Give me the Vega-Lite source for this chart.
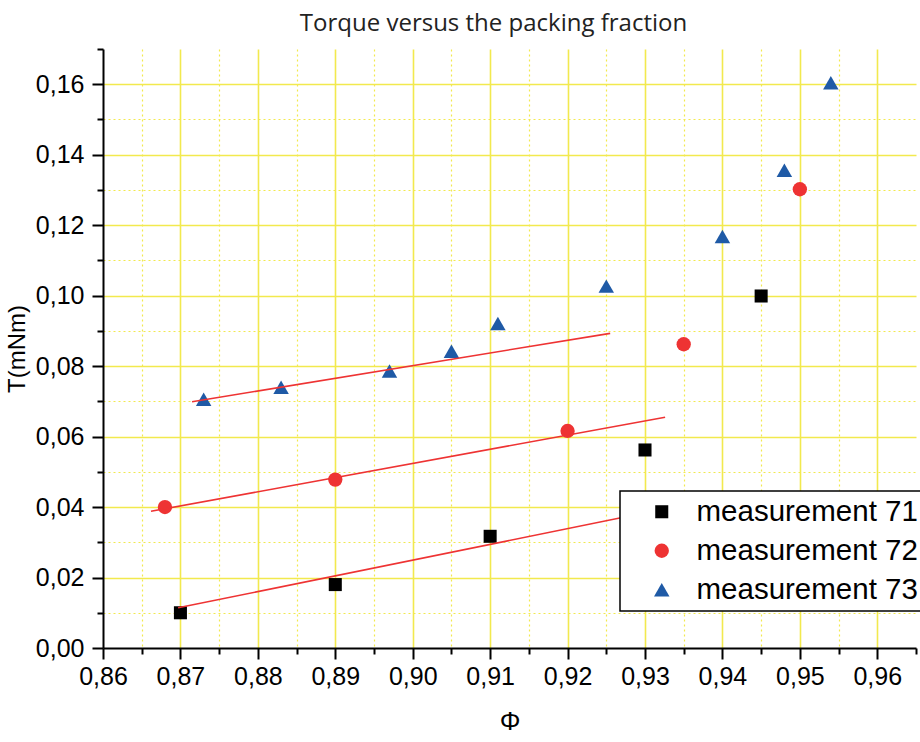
{
  "$schema": "https://vega.github.io/schema/vega-lite/v6.json",
  "width": 813,
  "height": 599,
  "autosize": {"type": "none"},
  "padding": {"left": 103, "top": 49, "right": 4, "bottom": 94},
  "background": "white",
  "title": {
    "text": "Torque versus the packing fraction",
    "font": "Open Sans",
    "fontSize": 24,
    "fontWeight": "normal",
    "color": "#222222",
    "anchor": "middle",
    "frame": "group",
    "baseline": "alphabetic",
    "offset": 19,
    "dx": -16,
    "dy": 37
  },
  "datasets": {
    "points": [
      {"series": "measurement 71", "phi": 0.870, "T": 0.0100},
      {"series": "measurement 71", "phi": 0.890, "T": 0.0180},
      {"series": "measurement 71", "phi": 0.910, "T": 0.0317},
      {"series": "measurement 71", "phi": 0.930, "T": 0.0562},
      {"series": "measurement 71", "phi": 0.945, "T": 0.0999},
      {"series": "measurement 72", "phi": 0.868, "T": 0.0400},
      {"series": "measurement 72", "phi": 0.890, "T": 0.0478},
      {"series": "measurement 72", "phi": 0.920, "T": 0.0616},
      {"series": "measurement 72", "phi": 0.935, "T": 0.0862},
      {"series": "measurement 72", "phi": 0.950, "T": 0.1302},
      {"series": "measurement 73", "phi": 0.873, "T": 0.0706},
      {"series": "measurement 73", "phi": 0.883, "T": 0.0740},
      {"series": "measurement 73", "phi": 0.897, "T": 0.0786},
      {"series": "measurement 73", "phi": 0.905, "T": 0.0842},
      {"series": "measurement 73", "phi": 0.911, "T": 0.0921},
      {"series": "measurement 73", "phi": 0.925, "T": 0.1027},
      {"series": "measurement 73", "phi": 0.940, "T": 0.1168},
      {"series": "measurement 73", "phi": 0.948, "T": 0.1356},
      {"series": "measurement 73", "phi": 0.954, "T": 0.1604}
    ],
    "fits": [
      {"series": "fit 71", "phi": 0.8697, "T": 0.0114},
      {"series": "fit 71", "phi": 0.9326, "T": 0.0395},
      {"series": "fit 72", "phi": 0.8662, "T": 0.0388},
      {"series": "fit 72", "phi": 0.9326, "T": 0.0655},
      {"series": "fit 73", "phi": 0.8715, "T": 0.0699},
      {"series": "fit 73", "phi": 0.9255, "T": 0.0893}
    ]
  },
  "encoding": {
    "x": {
      "field": "phi",
      "type": "quantitative",
      "scale": {"domain": [0.86, 0.965], "nice": false, "zero": false},
      "axis": {
        "title": "Φ",
        "titleFont": "Liberation Sans",
        "titleFontSize": 26,
        "titleFontWeight": "normal",
        "titleColor": "black",
        "titlePadding": 19,
        "values": [0.86, 0.865, 0.87, 0.875, 0.88, 0.885, 0.89, 0.895, 0.9, 0.905, 0.91, 0.915, 0.92, 0.925, 0.93, 0.935, 0.94, 0.945, 0.95, 0.955, 0.96, 0.965],
        "labelExpr": "round(datum.value*1000) % 10 != 0 ? '' : replace(format(datum.value, '.2f'), '.', ',')",
        "labelFont": "Liberation Sans",
        "labelFontSize": 25,
        "labelColor": "black",
        "labelPadding": 5,
        "labelFlush": false,
        "labelOverlap": false,
        "domainColor": "black",
        "domainWidth": 2,
        "tickColor": "black",
        "tickWidth": 2,
        "tickSize": {"condition": {"test": "round(datum.value*1000) % 10 != 0", "value": 6}, "value": 11},
        "grid": true,
        "gridColor": "#f2e94e",
        "gridWidth": {"condition": {"test": "round(datum.value*1000) % 10 != 0", "value": 1.2}, "value": 1.6},
        "gridDash": {"condition": {"test": "round(datum.value*1000) % 10 != 0", "value": [2, 3]}, "value": []},
        "gridOpacity": {"condition": {"test": "datum.value > 0.9625 || datum.value < 0.8605", "value": 0}, "value": 1}
      }
    },
    "y": {
      "field": "T",
      "type": "quantitative",
      "scale": {"domain": [0, 0.17], "nice": false, "zero": false},
      "axis": {
        "title": "T(mNm)",
        "titleFont": "Liberation Sans",
        "titleFontSize": 24,
        "titleFontWeight": "normal",
        "titleColor": "black",
        "titlePadding": 6,
        "values": [0, 0.01, 0.02, 0.03, 0.04, 0.05, 0.06, 0.07, 0.08, 0.09, 0.1, 0.11, 0.12, 0.13, 0.14, 0.15, 0.16, 0.17],
        "labelExpr": "round(datum.value*100) % 2 != 0 ? '' : replace(format(datum.value, '.2f'), '.', ',')",
        "labelFont": "Liberation Sans",
        "labelFontSize": 25,
        "labelColor": "black",
        "labelPadding": 8,
        "labelFlush": false,
        "labelOverlap": false,
        "domainColor": "black",
        "domainWidth": 2,
        "tickColor": "black",
        "tickWidth": 2,
        "tickSize": {"condition": {"test": "round(datum.value*100) % 2 != 0", "value": 6}, "value": 11},
        "grid": true,
        "gridColor": "#f2e94e",
        "gridWidth": {"condition": {"test": "round(datum.value*100) % 2 != 0", "value": 1.2}, "value": 1.6},
        "gridDash": {"condition": {"test": "round(datum.value*100) % 2 != 0", "value": [2, 3]}, "value": []},
        "gridOpacity": {"condition": {"test": "datum.value > 0.165 || datum.value < 0.005", "value": 0}, "value": 1}
      }
    }
  },
  "layer": [
    {
      "data": {"name": "points"},
      "mark": {"type": "point", "filled": true, "opacity": 1, "size": 220},
      "encoding": {
        "color": {
          "field": "series",
          "type": "nominal",
          "scale": {"domain": ["measurement 71", "measurement 72", "measurement 73"], "range": ["#000000", "#ee3333", "#1f5aa6"]},
          "legend": {
            "title": " ",
            "titleOrient": "left",
            "titleFontSize": 1,
            "titlePadding": 21,
            "orient": "none",
            "legendX": 517,
            "legendY": 442,
            "fillColor": "white",
            "strokeColor": "black",
            "padding": 6,
            "rowPadding": 8,
            "symbolOffset": 0,
            "labelOffset": 20,
            "labelFont": "Liberation Sans",
            "labelFontSize": 29.5,
            "labelColor": "black",
            "labelLimit": 400,
            "symbolSize": 200,
            "symbolStrokeWidth": 0
          }
        },
        "shape": {
          "field": "series",
          "type": "nominal",
          "scale": {"domain": ["measurement 71", "measurement 72", "measurement 73"], "range": ["square", "circle", "triangle-up"]}
        },
        "size": {
          "field": "series",
          "type": "nominal",
          "scale": {"domain": ["measurement 71", "measurement 72", "measurement 73"], "range": [170, 240, 340]}
        }
      }
    },
    {
      "data": {"name": "fits"},
      "mark": {"type": "line", "color": "#ee3333", "strokeWidth": 1.6},
      "encoding": {
        "detail": {"field": "series", "type": "nominal"}
      }
    }
  ],
  "config": {
    "view": {"stroke": null},
    "axis": {"tickSize": 11},
    "legend": {"strokeWidth": 1.5}
  }
}
